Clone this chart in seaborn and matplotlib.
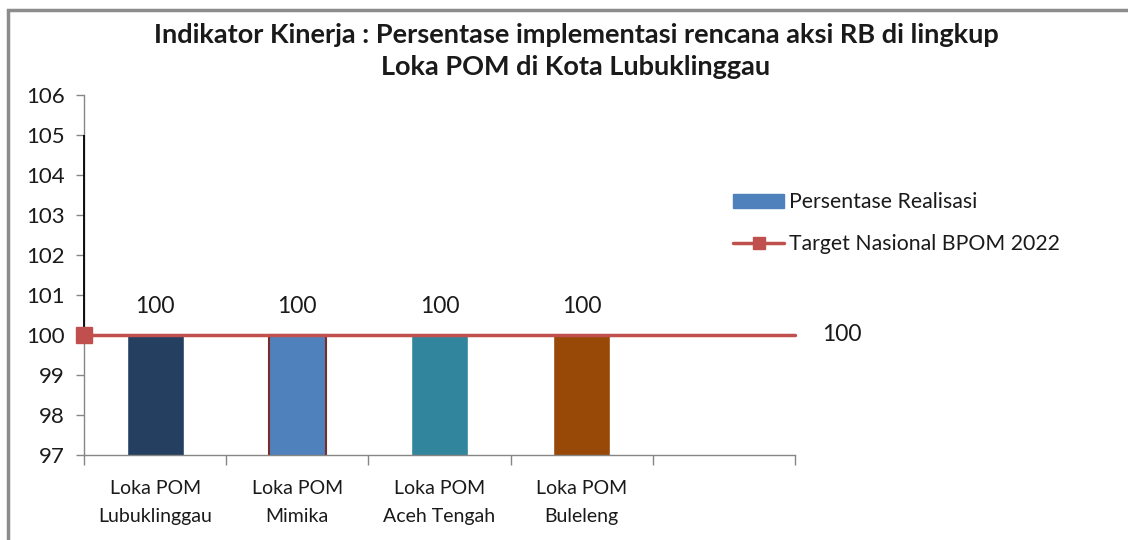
import matplotlib
matplotlib.use("Agg")
import matplotlib.pyplot as plt
import seaborn as sns
import pandas as pd
from matplotlib.patches import Patch, Rectangle
from matplotlib.lines import Line2D

# data
categories = ["Loka POM\nLubuklinggau", "Loka POM\nMimika", "Loka POM\nAceh Tengah", "Loka POM\nBuleleng"]
realisasi = [100, 100, 100, 100]
target = 100
bar_colors = ["#243F60", "#4F81BD", "#31859C", "#984807"]
title = "Indikator Kinerja : Persentase implementasi rencana aksi RB di lingkup\nLoka POM di Kota Lubuklinggau"

df = pd.DataFrame({"lokasi": categories, "nilai": realisasi})

sns.set_style("white")
plt.rcParams["font.family"] = ["Lato", "DejaVu Sans"]

fig = plt.figure(figsize=(11.28, 5.4), dpi=100)
ax = fig.add_axes([84 / 1128, 85 / 540, 711 / 1128, 360 / 540])

sns.barplot(data=df, x="lokasi", y="nilai", hue="lokasi", palette=bar_colors,
            width=0.4, legend=False, ax=ax, saturation=1)
# Mimika bar has a dark red outline
ax.patches[1].set_edgecolor("#7B2C2A")
ax.patches[1].set_linewidth(1.5)
ax.set_xlabel("")
ax.set_ylabel("")

ax.set_xlim(-0.5, 4.5)
ax.set_ylim(97, 106)
ax.set_yticks(range(97, 107))
ax.tick_params(axis="y", labelsize=16, length=6, width=1, color="#868686",
               direction="out", left=True, labelcolor="#1a1a1a", pad=8)

# category boundaries get tick marks, labels sit between them
ax.set_xticks([i - 0.5 for i in range(6)])
ax.set_xticklabels([])
ax.set_xticks(range(4), minor=True)
ax.set_xticklabels(categories, minor=True, fontsize=14, color="#1a1a1a", linespacing=1.8)
ax.tick_params(axis="x", which="major", length=7, width=1, color="#868686", direction="out", bottom=True)
ax.tick_params(axis="x", which="minor", length=0, pad=18)

for side in ["top", "right"]:
    ax.spines[side].set_visible(False)
for side in ["left", "bottom"]:
    ax.spines[side].set_color("#868686")
    ax.spines[side].set_linewidth(1)
ax.vlines(-0.5, target, 105, color="black", lw=1.3, zorder=4, clip_on=False)

# data labels above bars
for i, v in enumerate(realisasi):
    ax.text(i, v + 0.7, f"{v}", ha="center", va="center", fontsize=16.5, color="#1a1a1a")

# target line
ax.plot([-0.5, 4.5], [target, target], color="#C0504D", lw=2.5, marker="s",
        markersize=11, markevery=[0], clip_on=False, zorder=5)
ax.text(4.69, target, f"{target}", ha="left", va="center", fontsize=16.5, color="#1a1a1a")

fig.text(576 / 1128, 1 - 51 / 540, title, ha="center", va="center", fontsize=19.5,
         fontweight="bold", color="#1a1a1a", linespacing=1.42)

handles = [Patch(facecolor="#4F81BD", edgecolor="#4F81BD"),
           Line2D([0], [0], color="#C0504D", lw=2.5, marker="s", markersize=9)]
fig.legend(handles, ["Persentase Realisasi", "Target Nasional BPOM 2022"],
           loc="center left", bbox_to_anchor=(714 / 1128, 1 - 223 / 540), frameon=False,
           fontsize=15.3, handlelength=2.4, handleheight=0.6, handletextpad=0.25,
           labelspacing=1.0, labelcolor="#1a1a1a")

# chart border
fig.patches.append(Rectangle((8 / 1128, -0.01), 1.2, 0.991, transform=fig.transFigure,
                             fill=False, edgecolor="#8c8c8c", lw=2.5))

fig.savefig("out.png", dpi=100)
